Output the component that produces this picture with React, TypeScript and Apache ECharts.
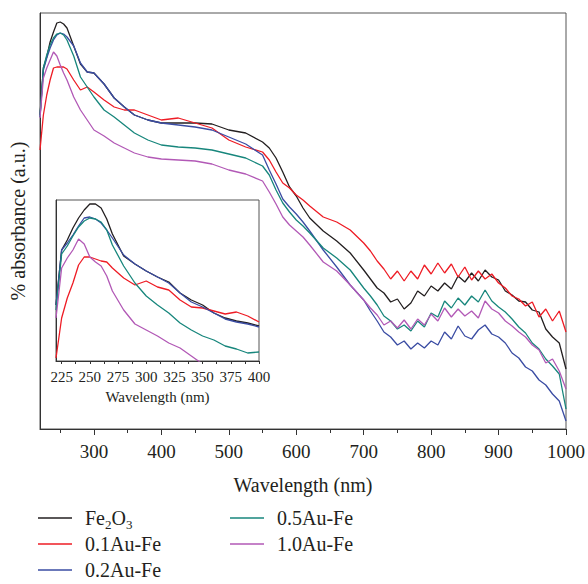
import React, { useEffect, useRef } from "react";
import * as echarts from "echarts";

// ---------- main spectrum (wavelength in nm, absorbance in a.u.) ----------
const wavelengths = [
  220, 225, 230, 235, 240, 245, 250, 255, 260, 270, 280, 290, 300, 315, 330, 345, 360, 380, 400, 425,
  450, 475, 500, 525, 550, 560, 570, 580, 590, 600, 610, 620, 640, 660, 680,
  700, 710, 720, 730, 740, 750, 760, 770, 780, 790, 800, 810, 820, 830, 840, 850, 860, 870, 880, 890,
  900, 910, 920, 930, 940, 950, 960, 970, 980, 990, 1000,
];
const fe2o3 = [
  314, 361, 372, 387, 397, 406, 407, 405, 401, 383, 365, 357, 356, 345, 331, 322, 314, 309, 306, 306,
  306, 305, 299, 296, 287, 281, 271, 257, 242, 233, 221, 211, 198, 188, 176,
  159, 150, 141, 136, 127, 130, 120, 126, 138, 133, 143, 138, 146, 140, 153, 147, 156, 148, 159, 152,
  149, 138, 134, 128, 127, 119, 117, 100, 92, 86, 60,
];
const au01 = [
  279, 314, 334, 349, 361, 362, 362, 362, 360, 349, 339, 342, 337, 329, 322, 319, 319, 314, 309, 311,
  306, 301, 289, 282, 277, 269, 257, 246, 241, 234, 229, 223, 212, 207, 199,
  186, 178, 168, 160, 150, 158, 148, 158, 150, 164, 155, 166, 156, 165, 152, 162, 149, 158, 150, 155,
  146, 141, 133, 130, 123, 127, 112, 120, 108, 118, 97,
];
const au02 = [
  312, 359, 371, 381, 389, 394, 396, 395, 392, 383, 366, 357, 356, 345, 331, 322, 314, 309, 306, 304,
  302, 299, 292, 285, 274, 259, 245, 230, 222, 215, 207, 198, 179, 162, 144,
  129, 118, 108, 97, 92, 84, 88, 80, 86, 81, 88, 84, 97, 90, 103, 93, 90, 99, 104, 95,
  92, 86, 76, 71, 62, 58, 49, 44, 35, 28, 8,
];
const au05 = [
  312, 361, 374, 384, 391, 395, 396, 394, 389, 373, 352, 342, 332, 319, 312, 304, 296, 289, 284, 282,
  281, 279, 275, 271, 263, 254, 239, 226, 217, 209, 203, 196, 181, 171, 159,
  141, 133, 124, 113, 108, 100, 104, 98, 108, 102, 116, 112, 128, 121, 131, 124, 133, 127, 139, 128,
  122, 117, 110, 102, 96, 86, 80, 70, 63, 55, 20,
];
const au10 = [
  311, 351, 361, 369, 377, 373, 364, 356, 349, 332, 319, 309, 299, 293, 286, 281, 276, 272, 270, 269,
  268, 265, 259, 255, 248, 237, 225, 212, 204, 198, 192, 184, 167, 158, 144,
  129, 121, 114, 104, 108, 101, 109, 100, 110, 104, 115, 108, 121, 112, 120, 113, 118, 111, 128, 120,
  116, 108, 103, 97, 92, 84, 79, 66, 70, 58, 40,
];

// ---------- inset (220–400 nm, magnified) ----------
const insetWavelengths = [
  220, 225, 230, 235, 240, 245, 250, 255, 260, 265, 270, 280, 290, 300, 310, 320, 330, 340, 350, 360,
  370, 380, 390, 400,
];
const insetFe2o3 = [56, 111, 121, 133, 143, 151, 157, 157, 153, 142, 127, 105, 97, 90, 84, 79, 68, 61, 56, 48, 43, 40, 38, 35];
const insetAu01 = [3, 43, 63, 78, 96, 104, 104, 102, 100, 99, 93, 83, 76, 80, 74, 71, 61, 54, 53, 50, 47, 49, 45, 39];
const insetAu02 = [56, 111, 118, 126, 135, 143, 144, 142, 138, 131, 123, 106, 97, 90, 84, 78, 68, 59, 54, 48, 42, 39, 37, 34];
const insetAu05 = [51, 107, 115, 125, 134, 140, 143, 142, 139, 131, 116, 95, 78, 65, 56, 48, 38, 31, 25, 21, 15, 12, 8, 9];
const insetAu10 = [43, 93, 103, 111, 122, 117, 104, 99, 95, 85, 70, 51, 37, 31, 25, 18, 13, 5, -3, -10, -15, -20, -25, -30];

const seriesNames = ["Fe2O3", "0.1Au-Fe", "0.2Au-Fe", "0.5Au-Fe", "1.0Au-Fe"];
const seriesColors = ["#231f20", "#ee1c25", "#3a4ca3", "#17867c", "#b259b6"];
const mainValues = [fe2o3, au01, au02, au05, au10];
const insetValues = [insetFe2o3, insetAu01, insetAu02, insetAu05, insetAu10];

const mainLabelTicks = [300, 400, 500, 600, 700, 800, 900, 1000];
const mainMinorTicks = [250, 350, 450, 550, 650, 750, 850, 950];
const insetLabelTicks = [225, 250, 275, 300, 325, 350, 375, 400];
const insetTicks = [225, 237.5, 250, 262.5, 275, 287.5, 300, 312.5, 325, 337.5, 350, 362.5, 375, 387.5, 400];

const FONT = "Liberation Serif, Times New Roman, DejaVu Serif, serif";
const TXT = "#231f20";

function buildOption() {
  const series: any[] = [];
  seriesNames.forEach((name, i) => {
    series.push({
      name,
      type: "line",
      xAxisIndex: 0,
      yAxisIndex: 0,
      showSymbol: false,
      symbol: "none",
      color: seriesColors[i],
      lineStyle: { width: 1.3, color: seriesColors[i] },
      data: wavelengths.map((w, k) => [w, mainValues[i][k]]),
    });
  });
  seriesNames.forEach((name, i) => {
    series.push({
      name,
      type: "line",
      xAxisIndex: 2,
      yAxisIndex: 1,
      showSymbol: false,
      symbol: "none",
      color: seriesColors[i],
      lineStyle: { width: 1.3, color: seriesColors[i] },
      data: insetWavelengths.map((w, k) => [w, insetValues[i][k]]),
    });
  });

  const legendPos = [
    { left: 38, top: 508 },
    { left: 38, top: 534 },
    { left: 38, top: 560 },
    { left: 230, top: 508 },
    { left: 230, top: 534 },
  ];
  const legend = seriesNames.map((name, i) => ({
    data: [name],
    left: legendPos[i].left,
    top: legendPos[i].top,
    padding: 0,
    icon: "rect",
    itemWidth: 34,
    itemHeight: 1.6,
    selectedMode: false,
    formatter: (n: string) => (n === "Fe2O3" ? "{a|Fe}{b|2}{a|O}{b|3}" : "{a|" + n + "}"),
    textStyle: {
      fontFamily: FONT,
      fontSize: 20,
      color: TXT,
      padding: [0, 0, 0, 8],
      rich: {
        a: { fontFamily: FONT, fontSize: 20, color: TXT, lineHeight: 26, verticalAlign: "middle" },
        b: { fontFamily: FONT, fontSize: 13, color: TXT, lineHeight: 13, verticalAlign: "bottom" },
      },
    },
  }));

  return {
    animation: false,
    backgroundColor: "#ffffff",
    textStyle: { fontFamily: FONT },
    legend,
    grid: [
      { left: 39, top: 13, width: 528, height: 416, show: true, borderColor: "#555", borderWidth: 1 },
      { left: 56, top: 200, width: 203, height: 161, show: true, borderColor: "#555", borderWidth: 1 },
    ],
    xAxis: [
      {
        gridIndex: 0,
        type: "value",
        min: 220,
        max: 1000,
        axisLine: { show: true, lineStyle: { color: "#333", width: 1 } },
        axisTick: { show: true, customValues: mainLabelTicks, length: 6, lineStyle: { color: "#333" } },
        axisLabel: {
          customValues: mainLabelTicks,
          fontSize: 19,
          color: TXT,
          margin: 13,
          fontFamily: FONT,
          formatter: (v: number) => String(v),
        },
        splitLine: { show: false },
        name: "Wavelength (nm)",
        nameLocation: "middle",
        nameGap: 46,
        nameTextStyle: { fontSize: 20, color: TXT, fontFamily: FONT },
      },
      {
        gridIndex: 0,
        type: "value",
        position: "bottom",
        min: 220,
        max: 1000,
        axisLine: { show: false },
        axisTick: { show: true, customValues: mainMinorTicks, length: 4, lineStyle: { color: "#333" } },
        axisLabel: { show: false },
        splitLine: { show: false },
      },
      {
        gridIndex: 1,
        type: "value",
        min: 220,
        max: 400,
        axisLine: { show: true, lineStyle: { color: "#333", width: 1 } },
        axisTick: { show: true, customValues: insetTicks, length: 3, lineStyle: { color: "#333" } },
        axisLabel: {
          customValues: insetLabelTicks,
          fontSize: 15,
          color: TXT,
          margin: 8,
          fontFamily: FONT,
          formatter: (v: number) => String(v),
        },
        splitLine: { show: false },
        name: "Wavelength (nm)",
        nameLocation: "middle",
        nameGap: 28,
        nameTextStyle: { fontSize: 15, color: TXT, fontFamily: FONT },
      },
    ],
    yAxis: [
      {
        gridIndex: 0,
        type: "value",
        min: 0,
        max: 416,
        axisLine: { show: true, lineStyle: { color: "#333", width: 1 } },
        axisTick: { show: false },
        axisLabel: { show: false },
        splitLine: { show: false },
        name: "% absorbance (a.u.)",
        nameLocation: "middle",
        nameGap: 12,
        nameRotate: 90,
        nameTextStyle: { fontSize: 20, color: TXT, fontFamily: FONT },
      },
      {
        gridIndex: 1,
        type: "value",
        min: 0,
        max: 161,
        axisLine: { show: true, lineStyle: { color: "#333", width: 1 } },
        axisTick: { show: false },
        axisLabel: { show: false },
        splitLine: { show: false },
      },
    ],
    series,
  };
}

export default function App() {
  const ref = useRef<HTMLDivElement>(null);
  useEffect(() => {
    if (!ref.current) return;
    const chart = echarts.init(ref.current, null, { renderer: "svg" });
    chart.setOption(buildOption() as any);
    return () => chart.dispose();
  }, []);
  return (
    <div
      ref={ref}
      style={{ position: "fixed", left: 0, top: 0, width: 588, height: 584, background: "#fff" }}
    />
  );
}
